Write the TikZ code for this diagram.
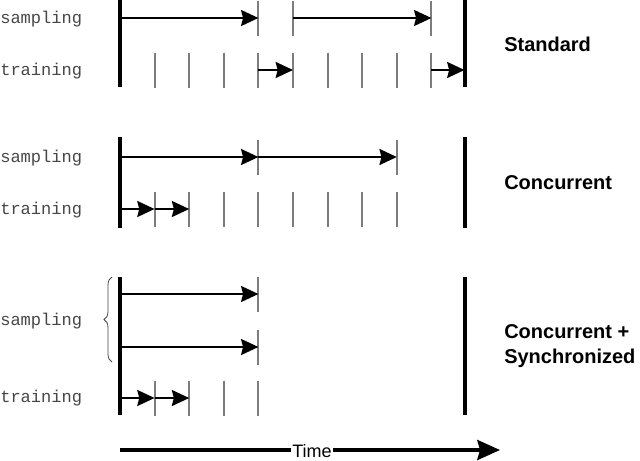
\documentclass[tikz,border=0pt]{standalone}
\usepackage{fontspec}
\setmainfont{Liberation Sans}
\newfontfamily\monofont{Liberation Mono}
\usetikzlibrary{arrows.meta, decorations.pathreplacing, calc}
\definecolor{tickgray}{RGB}{125, 125, 125}
\definecolor{labelgray}{RGB}{70, 70, 70}
\def\steppx{34.6}
\def\tickmark#1{
    \draw[tickgray, line width=1.5pt] ($(#1)+(0,-17.5)$) -- ($(#1)+(0,17.5)$);
}

\begin{document}
\begin{tikzpicture}[x=0.75pt, y=-0.75pt]
\tikzset{
    bar/.style={line width=3pt, black},
    arr/.style={line width=1.6pt, -{Stealth[length=13pt, width=12pt, inset=1.5pt]}},
    rowlabel/.style={anchor=west, inner sep=0, labelgray, font=\monofont\fontsize{12.8}{14}\selectfont},
    modelabel/.style={anchor=west, inner sep=0, align=left, font=\bfseries\fontsize{15}{18.5}\selectfont}
}
\useasboundingbox (0, 0) rectangle (640, 461);

% Standard
\node[rowlabel] (s-samp) at (0, 19) {sampling};
\node[rowlabel] (s-train) at (0, 71) {training};
\draw[bar] (120, 0) -- (120, 87);
\draw[bar] (465, 0) -- (465, 87);
\foreach \k in {0,...,10} {
    \coordinate (ss\k) at ({120+\steppx*\k}, 18);
    \coordinate (st\k) at ({120+\steppx*\k}, 70);
}
\foreach \k in {4,5,9} {\tickmark{ss\k}}
\foreach \k in {1,...,9} {\tickmark{st\k}}
\draw[arr] (ss0) -- (ss4);
\draw[arr] (ss5) -- (ss9);
\draw[arr] (st4) -- (st5);
\draw[arr] (st9) -- ($(st10)+(-1.5,0)$);
\node[modelabel] (standard) at (504, 44) {Standard};

% Concurrent
\node[rowlabel] (c-samp) at (0, 158) {sampling};
\node[rowlabel] (c-train) at (0, 210) {training};
\draw[bar] (120, 137) -- (120, 228);
\draw[bar] (465, 137) -- (465, 228);
\foreach \k in {0,...,10} {
    \coordinate (cs\k) at ({120+\steppx*\k}, 157);
    \coordinate (ct\k) at ({120+\steppx*\k}, 209);
}
\foreach \k in {4,8} {\tickmark{cs\k}}
\foreach \k in {1,...,8} {\tickmark{ct\k}}
\draw[arr] (cs0) -- (cs4);
\draw[arr] (cs4) -- (cs8);
\draw[arr] (ct0) -- (ct1);
\draw[arr] (ct1) -- (ct2);
\node[modelabel] (concurrent) at (504, 183) {Concurrent};

% Concurrent + Synchronized
\node[rowlabel] (cs-samp) at (0, 321) {sampling};
\node[rowlabel] (cs-train) at (0, 398) {training};
\draw[bar] (120, 277) -- (120, 415);
\draw[bar] (465, 277) -- (465, 415);
\foreach \k in {0,...,4} {
    \coordinate (ya\k) at ({120+\steppx*\k}, 294);
    \coordinate (yb\k) at ({120+\steppx*\k}, 347);
    \coordinate (yt\k) at ({120+\steppx*\k}, 398);
}
\tickmark{ya4}
\tickmark{yb4}
\foreach \k in {1,...,4} {\tickmark{yt\k}}
\draw[arr] (ya0) -- (ya4);
\draw[arr] (yb0) -- (yb4);
\draw[arr] (yt0) -- (yt1);
\draw[arr] (yt1) -- (yt2);
\draw[labelgray, line width=0.6pt, decorate, decoration={brace, amplitude=6pt}]
    (112, 362) -- (112, 277);
\node[modelabel] (synced) at (504, 346) {Concurrent +\\Synchronized};

% time axis
\coordinate (t-start) at (120, 450);
\coordinate (t-end) at (500, 450);
\draw[line width=2.5pt, -{Stealth[length=17pt, width=15pt, inset=2pt]}] (t-start) -- (t-end);
\node[fill=white, inner sep=1pt, font=\fontsize{13.5}{15}\selectfont] (time) at (312, 451) {Time};
\end{tikzpicture}
\end{document}
